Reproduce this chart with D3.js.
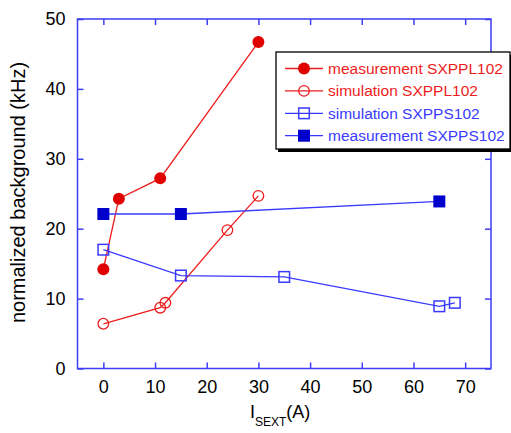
<!DOCTYPE html>
<html><head><meta charset="utf-8">
<script src="https://cdn.jsdelivr.net/npm/d3@7"></script>
<style>html,body{margin:0;padding:0;background:#fff;}svg{display:block;font-family:Arial,"Liberation Sans",sans-serif;}</style>
</head><body>
<svg id="c" width="511" height="433"></svg>
<script>
const seriesNames = ["measurement SXPPL102","simulation SXPPL102","simulation SXPPS102","measurement SXPPS102"];
const measPLx = [0, 3, 11, 30];
const measPLy = [14.2, 24.3, 27.2, 46.7];
const simPLx = [0, 11, 12, 24, 30];
const simPLy = [6.4, 8.7, 9.4, 19.8, 24.7];
const simPSx = [0, 15, 35, 65, 68];
const simPSy = [17.0, 13.3, 13.1, 8.9, 9.4];
const measPSx = [0, 15, 65];
const measPSy = [22.1, 22.1, 23.9];
const xTicks = [0,10,20,30,40,50,60,70];
const yTicks = [0,10,20,30,40,50];

const RED = "#ee1c1c", REDF = "#e00000", BLUE = "#3a3aff", BLUEF = "#0000cc", AXIS = "#3d3df5";
const svg = d3.select("#c");
const L = 77.5, R = 491, T = 19, B = 368.5;
const x = d3.scaleLinear().domain([-5, 75]).range([L, R]);
const y = d3.scaleLinear().domain([0, 50]).range([B, T]);

// axes
const tl = 6;
const gb = svg.append("g").attr("transform", `translate(0,${B})`).call(d3.axisBottom(x).tickValues(xTicks).tickSize(-tl).tickPadding(12).tickFormat(d3.format("d")));
const gt = svg.append("g").attr("transform", `translate(0,${T})`).call(d3.axisTop(x).tickValues(xTicks).tickSize(-tl).tickFormat(""));
const gl = svg.append("g").attr("transform", `translate(${L},0)`).call(d3.axisLeft(y).tickValues(yTicks).tickSize(-tl).tickPadding(12).tickFormat(d3.format("d")));
const gr = svg.append("g").attr("transform", `translate(${R},0)`).call(d3.axisRight(y).tickValues(yTicks).tickSize(-tl).tickFormat(""));
[gb,gt,gl,gr].forEach(g => {
  g.select(".domain").remove();
  g.selectAll(".tick line").attr("stroke", AXIS).attr("stroke-width", 1.5);
  g.selectAll(".tick text").attr("fill", "#000").attr("font-size", 18).attr("font-family", "Arial, 'Liberation Sans', sans-serif");
});
gb.selectAll(".tick text").attr("dy", "0.71em");
svg.append("rect").attr("x", L).attr("y", T).attr("width", R - L).attr("height", B - T)
  .attr("fill", "none").attr("stroke", AXIS).attr("stroke-width", 1.5);

// titles
svg.append("text").attr("transform", `translate(25,192.5) rotate(-90)`).attr("text-anchor", "middle")
  .attr("font-size", 20).attr("fill", "#000").text("normalized background (kHz)");
const xt = svg.append("text").attr("x", 250).attr("y", 418).attr("font-size", 18).attr("fill", "#000");
xt.append("tspan").text("I");
xt.append("tspan").attr("font-size", 12).attr("dy", 8).text("SEXT");
xt.append("tspan").attr("dy", -8).text("(A)");

// data
const line = d3.line().x(d => x(d[0])).y(d => y(d[1]));
const zip = (a, b) => a.map((v, i) => [v, b[i]]);
const series = [
  {pts: zip(measPLx, measPLy), color: RED, marker: "circle", fill: REDF},
  {pts: zip(simPLx, simPLy), color: RED, marker: "circle", fill: "none"},
  {pts: zip(simPSx, simPSy), color: BLUE, marker: "square", fill: "none"},
  {pts: zip(measPSx, measPSy), color: BLUE, marker: "square", fill: BLUEF}
];
function marker(g, type, fill, color, cx, cy) {
  if (type === "circle") {
    if (fill !== "none") g.append("circle").attr("cx", cx).attr("cy", cy).attr("r", 6).attr("fill", fill);
    else g.append("circle").attr("cx", cx).attr("cy", cy).attr("r", 5.3).attr("fill", "none").attr("stroke", color).attr("stroke-width", 1.3);
  } else {
    if (fill !== "none") g.append("rect").attr("x", cx - 6).attr("y", cy - 6).attr("width", 12).attr("height", 12).attr("fill", fill);
    else g.append("rect").attr("x", cx - 5.3).attr("y", cy - 5.3).attr("width", 10.6).attr("height", 10.6).attr("fill", "none").attr("stroke", color).attr("stroke-width", 1.5);
  }
}
series.forEach(s => {
  svg.append("path").attr("d", line(s.pts)).attr("fill", "none").attr("stroke", s.color).attr("stroke-width", 1.3);
});
series.forEach(s => {
  const g = svg.append("g");
  s.pts.forEach(p => marker(g, s.marker, s.fill, s.color, x(p[0]), y(p[1])));
});

// legend
const lx = 276, ly = 52, lw = 234, lh = 97;
svg.append("rect").attr("x", lx + 2).attr("y", ly + 3).attr("width", lw).attr("height", lh).attr("fill", "#000");
svg.append("rect").attr("x", lx).attr("y", ly).attr("width", lw).attr("height", lh).attr("fill", "#fff").attr("stroke", "#000").attr("stroke-width", 1.3);
seriesNames.forEach((name, i) => {
  const s = series[i];
  const cy = 68.5 + i * 22.4;
  const g = svg.append("g");
  g.append("line").attr("x1", 285).attr("x2", 323).attr("y1", cy).attr("y2", cy).attr("stroke", s.color).attr("stroke-width", 1.3);
  marker(g, s.marker, s.fill, s.color, 304, cy);
  g.append("text").attr("x", 328).attr("y", cy).attr("dy", "0.36em").attr("font-size", 15.5)
    .attr("fill", s.color === RED ? RED : BLUE).text(name);
});
</script>
</body></html>
